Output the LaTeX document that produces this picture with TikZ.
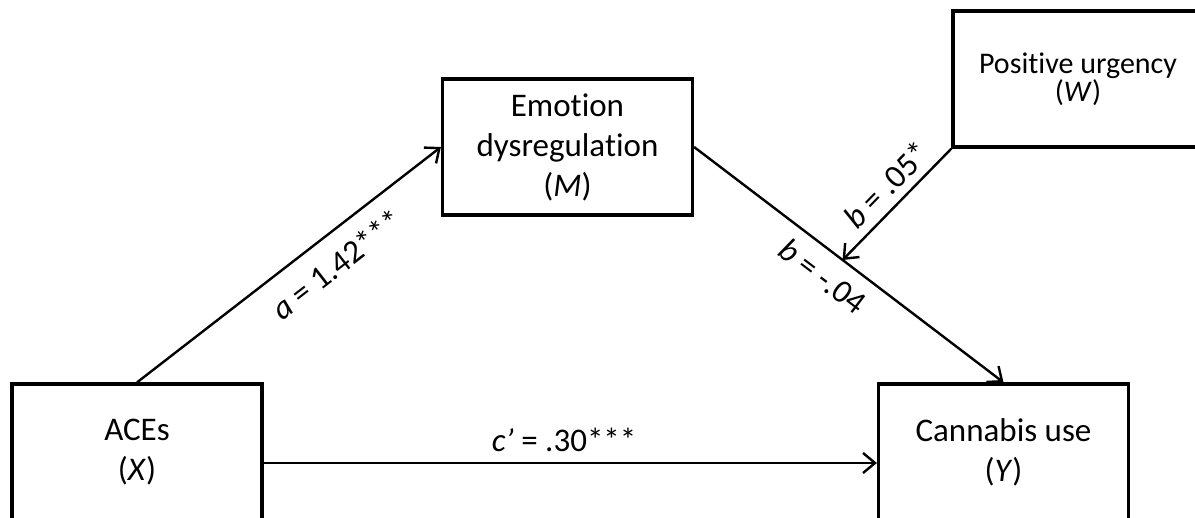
\documentclass[tikz,border=0pt]{standalone}
\usepackage{fontspec}
\setmainfont{Carlito}[Ligatures=CommonOff]
\usetikzlibrary{calc,arrows.meta}

\begin{document}
\begin{tikzpicture}[x=0.5pt,y=-0.5pt,
    var/.style={draw,line width=1.6pt,minimum width=125pt,minimum height=68pt,
      align=center,inner sep=0pt,font=\fontsize{16.5}{20}\selectfont},
    link/.style={line width=1.2pt,-{Straight Barb[length=6pt,width=10pt]}},
    coef/.style={sloped,inner sep=4pt,font=\fontsize{16.5}{18}\selectfont}]
  \useasboundingbox (0,0) rectangle (1195,518);
  \clip (0,0) rectangle (1195,518);
  \node[var] (X) at (137,452) {ACEs\\(\textit{X})};
  \node[var] (M) at (567.5,147) {Emotion\\dysregulation\\(\textit{M})};
  \node[var] (Y) at (1003.5,452) {Cannabis use\\(\textit{Y})};
  \node[var,font=\fontsize{15}{14}\selectfont] (W) at (1078,79) {Positive urgency\\(\textit{W})};
  \coordinate (mod) at ($(M.east)!0.48!(Y.north)$);
  \draw[link] (X.north) -- node[coef,below=4pt,pos=0.6] {\textit{a} = 1.42***} (M.west);
  \draw[link] (M.east) -- node[coef,below=2pt,pos=0.465] {\textit{b} = -.04} (Y.north);
  \draw[link] (W.south west) -- node[coef,above,pos=0.455] {\textit{b} = .05*} (mod);
  \draw[link] ([yshift=-5.5pt]X.east) -- node[above,pos=0.49,inner sep=5pt,font=\fontsize{16.5}{18}\selectfont] {\textit{c’} = .30***} ([yshift=-5.5pt]Y.west);
\end{tikzpicture}
\end{document}
